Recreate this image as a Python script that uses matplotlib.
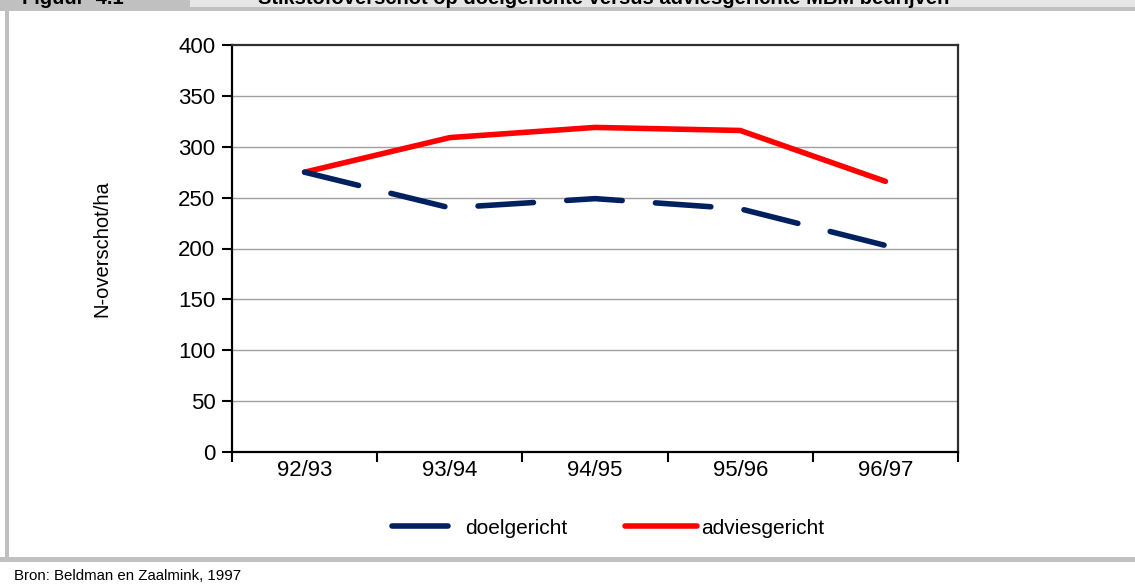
import matplotlib
matplotlib.use("Agg")
import matplotlib.pyplot as plt
from matplotlib.patches import Rectangle
from matplotlib.lines import Line2D
import numpy as np

categories = ["92/93", "93/94", "94/95", "95/96", "96/97"]
doelgericht = [275, 240, 249, 239, 203]
adviesgericht = [275, 309, 319, 316, 266]
yticks = [0, 50, 100, 150, 200, 250, 300, 350, 400]

plt.rcParams['font.family'] = ['Liberation Sans', 'DejaVu Sans']

W, H = 1135, 586
fig = plt.figure(figsize=(W/100, H/100), dpi=100)
fig.patch.set_facecolor('white')

def px(x, y, w, h, color):
    fig.patches.append(Rectangle((x/W, 1-(y+h)/H), w/W, h/H, transform=fig.transFigure,
                                 facecolor=color, edgecolor='none', zorder=0))

# header bands and frame
px(0, 0, 190, 8, '#c0c0c0')
px(190, 0, 945, 8, '#e6e6e6')
px(0, 7, 1135, 4, '#c0c0c0')
px(5, 7, 4, 555, '#c0c0c0')
px(0, 557, 1135, 5, '#c0c0c0')

fig.text(22/W, 1-4/H, "Figuur  4.1", fontsize=14.5, fontweight='bold', va='baseline', ha='left')
fig.text(258/W, 1-4/H, "Stikstofoverschot op doelgerichte versus adviesgerichte MBM bedrijven",
         fontsize=14.5, fontweight='bold', va='baseline', ha='left')
fig.text(14/W, 1-576/H, "Bron: Beldman en Zaalmink, 1997", fontsize=10.8, va='center', ha='left')

ax = fig.add_axes([232/W, 1-452/H, 726/W, 407/H])
x = np.arange(len(categories))
ax.plot(x, adviesgericht, color='#ff0000', lw=4, solid_capstyle='round', zorder=3)
ax.plot(x, doelgericht, color='#00205f', lw=4, dashes=(10, 6), dash_capstyle='round', zorder=3)

ax.set_xlim(-0.5, len(categories)-0.5)
ax.set_ylim(0, 400)
ax.set_yticks(yticks)
ax.set_yticklabels([str(v) for v in yticks], fontsize=16)
ax.set_xticks(x)
ax.set_xticklabels(categories, fontsize=16)
ax.set_xticks(np.arange(-0.5, len(categories), 1.0), minor=True)
ax.tick_params(axis='x', which='major', length=0, pad=6)
ax.tick_params(axis='x', which='minor', length=7, width=1.5, direction='out')
ax.tick_params(axis='y', length=7, width=1.5, direction='out', pad=5)
for v in yticks[1:-1]:
    ax.axhline(v, color='#a0a0a0', lw=1.0, zorder=1)
for s in ['left', 'bottom']:
    ax.spines[s].set_linewidth(1.6)
    ax.spines[s].set_color('black')
for s in ['top', 'right']:
    ax.spines[s].set_linewidth(1.6)
    ax.spines[s].set_color('#303030')
ax.set_ylabel("N-overschot/ha", fontsize=14.5)
ax.yaxis.set_label_coords(-121/726, 0.5)

fs = 15
fpx = fs * 100 / 72
leg1 = fig.legend([Line2D([], [], color='#00205f', lw=4, solid_capstyle='round')], ["doelgericht"],
                  loc='center left', bbox_to_anchor=(392/W, 1-528/H), frameon=False, fontsize=fs,
                  handlelength=56/fpx, handletextpad=17/fpx, borderpad=0, borderaxespad=0)
leg2 = fig.legend([Line2D([], [], color='#ff0000', lw=4, solid_capstyle='round')], ["adviesgericht"],
                  loc='center left', bbox_to_anchor=(625/W, 1-528/H), frameon=False, fontsize=fs,
                  handlelength=72/fpx, handletextpad=4/fpx, borderpad=0, borderaxespad=0)

fig.savefig("out.png", dpi=100)
